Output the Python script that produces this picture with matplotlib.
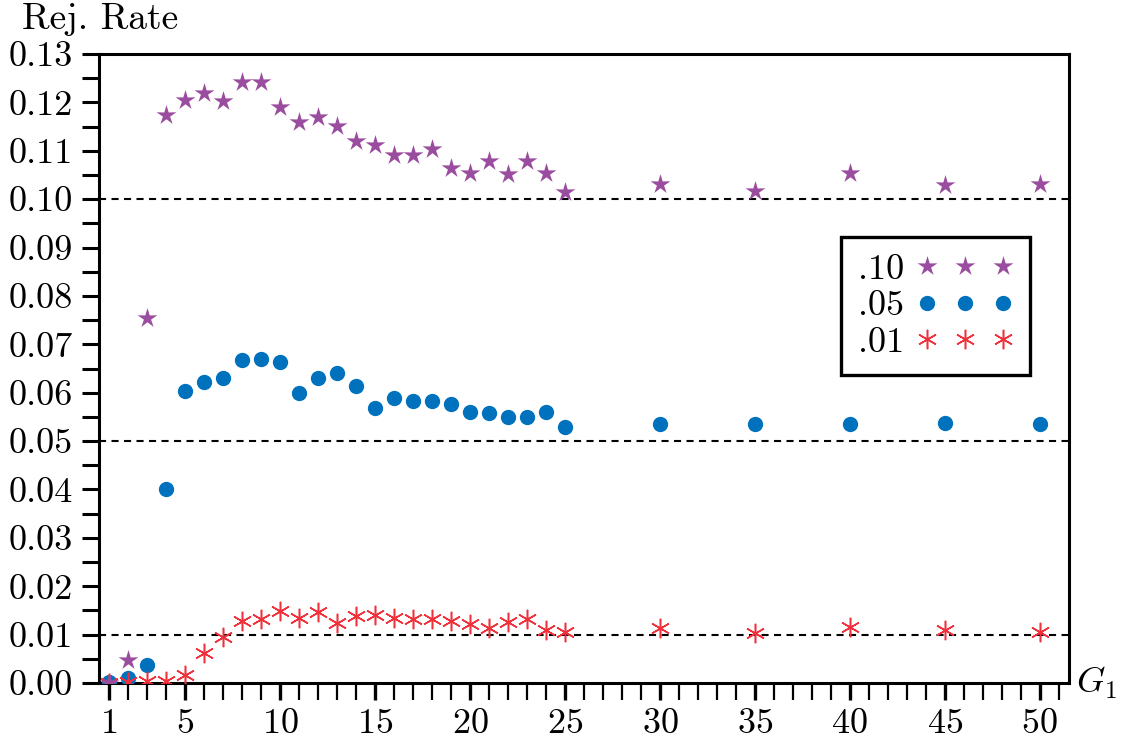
import matplotlib
matplotlib.use("Agg")
import matplotlib.pyplot as plt
import numpy as np
from matplotlib.path import Path

plt.rcParams["font.family"] = "serif"
plt.rcParams["font.serif"] = ["cmr10"]
plt.rcParams["mathtext.fontset"] = "cm"
plt.rcParams["axes.unicode_minus"] = False
plt.rcParams["axes.formatter.use_mathtext"] = True

# ── data ─────────────────────────────────────────────────────────────────────
G1 = list(range(1, 26)) + [30, 35, 40, 45, 50]

rate_10 = [0.0000, 0.0048, 0.0755, 0.1174, 0.1206, 0.1219, 0.1202, 0.1242,
           0.1243, 0.1191, 0.1159, 0.1169, 0.1151, 0.1121, 0.1111, 0.1092,
           0.1092, 0.1103, 0.1064, 0.1055, 0.1078, 0.1052, 0.1078, 0.1055,
           0.1014, 0.1032, 0.1017, 0.1055, 0.1030, 0.1032]
rate_05 = [0.0002, 0.0011, 0.0038, 0.0401, 0.0603, 0.0622, 0.0631, 0.0668,
           0.0669, 0.0664, 0.0600, 0.0631, 0.0641, 0.0614, 0.0569, 0.0589,
           0.0583, 0.0583, 0.0577, 0.0561, 0.0558, 0.0550, 0.0550, 0.0561,
           0.0530, 0.0535, 0.0535, 0.0535, 0.0537, 0.0535]
rate_01 = [0.0000, 0.0003, 0.0005, 0.0005, 0.0017, 0.0062, 0.0096, 0.0128,
           0.0132, 0.0148, 0.0134, 0.0146, 0.0124, 0.0138, 0.0140, 0.0135,
           0.0133, 0.0133, 0.0129, 0.0121, 0.0113, 0.0127, 0.0133, 0.0110,
           0.0106, 0.0113, 0.0103, 0.0116, 0.0110, 0.0105]

levels = [0.10, 0.05, 0.01]
level_labels = [".10", ".05", ".01"]
x_major = [1, 5, 10, 15, 20, 25, 30, 35, 40, 45, 50]

PURPLE = "#9A4C9E"
BLUE = "#0072BD"
RED = "#F0303A"

star = Path.unit_regular_star(5, 0.36)

# ── figure ───────────────────────────────────────────────────────────────────
fig = plt.figure(figsize=(11.22, 7.38), dpi=100)
ax = fig.add_axes([0.0882, 0.0745, 0.8646, 0.8523])

for lv in levels:
    ax.axhline(lv, color="black", lw=1.5, dashes=(3.4, 2.6), zorder=1)

h05, = ax.plot(G1, rate_05, ls="none", marker="o", ms=10, color=BLUE,
               mec=BLUE, zorder=3)
h01, = ax.plot(G1, rate_01, ls="none", marker=(6, 2, 0), ms=14, mew=1.1,
               color=RED, zorder=4)
h10, = ax.plot(G1, rate_10, ls="none", marker=star, ms=15, color=PURPLE,
               mec="none", zorder=5)

ax.set_xlim(0.47, 51.54)
ax.set_ylim(0, 0.13)

ax.set_xticks(x_major)
ax.set_xticks(range(1, 52), minor=True)
ax.set_yticks(np.arange(0, 0.1301, 0.01))
ax.set_yticks(np.arange(0, 0.1301, 0.005), minor=True)
ax.set_yticklabels([f"{v:.2f}" for v in np.arange(0, 0.1301, 0.01)])

ax.tick_params(axis="both", which="both", direction="out", labelsize=26)
ax.tick_params(axis="x", which="major", length=12, width=2.4, pad=6)
ax.tick_params(axis="x", which="minor", length=12, width=1.6)
ax.tick_params(axis="y", which="both", length=12, width=2.2, pad=7)

for sp in ax.spines.values():
    sp.set_linewidth(2.2)

leg = ax.legend([h10, h05, h01], level_labels, loc="upper right",
                bbox_to_anchor=(0.960, 0.709), borderaxespad=0,
                markerfirst=False, numpoints=3, handlelength=2.7,
                handletextpad=0.35, labelspacing=0.12, borderpad=0.45,
                fontsize=26, fancybox=False, framealpha=1)
leg.get_frame().set_edgecolor("black")
leg.get_frame().set_linewidth(2.4)

fig.text(22 / 1122, 1 - 28.5 / 738, "Rej. Rate", fontsize=27, va="baseline",
         ha="left")
fig.text(1076 / 1122, 1 - 683 / 738, r"$G_1$", fontsize=26, va="center",
         ha="left")

fig.savefig("out.png", dpi=100)
